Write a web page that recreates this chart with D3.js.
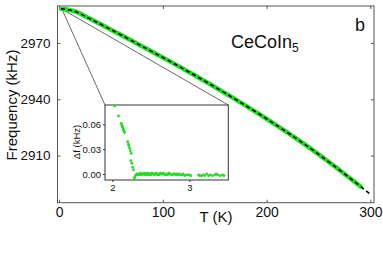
<!DOCTYPE html>
<html><head><meta charset="utf-8">
<script src="https://cdn.jsdelivr.net/npm/d3@7"></script>
<style>body{margin:0;background:#fff}svg{display:block}text{font-family:Arial,"Liberation Sans",sans-serif;fill:#111}</style>
</head><body><svg id="c" width="383" height="254"></svg>
<script>
// main measured data (T in K, frequency in kHz)
const dataT = [1.9, 15.5, 28.4, 44.5, 60.7, 92.9, 125.2, 167.2, 200, 233.3, 262, 290.4];
const dataF = [2988.2, 2986.8, 2983.3, 2978.7, 2974.0, 2964.4, 2954.55, 2940.9, 2929.6, 2917.3, 2905.8, 2893.6];
// fit (dashed)
const fitT = [1.9, 15.5, 28.4, 44.5, 60.7, 92.9, 125.2, 167.2, 200, 233.3, 262, 290.4, 301];
const fitF = [2988.2, 2986.8, 2983.3, 2978.7, 2974.0, 2964.4, 2954.55, 2940.9, 2929.6, 2917.3, 2905.8, 2893.6, 2888.9];
const xTicks = [0, 100, 200, 300];
const yTicks = [2910, 2940, 2970];
// inset: frequency shift near Tc
const insetT = [2.03,2.08,2.115,2.125,2.13,2.135,2.14,2.15,2.16,2.20,2.21,2.215,2.225,2.235,2.245,2.24,2.255,2.265,2.275,2.285,2.29,2.30,2.31,2.32,
 2.33,2.345,2.355,2.365,2.375,2.385,2.395,2.405,2.415,2.425,2.435,2.445,2.455,2.465,2.475,2.485,2.50,2.51,2.52,2.535,2.545,2.56,2.57,2.585,2.60,2.61,2.625,2.64,2.65,2.665,2.68,2.69,2.705,2.72,2.735,2.75,2.765,2.78,2.795,2.81,2.825,2.84,2.855,2.87,2.89,2.905,2.92,2.94,2.96,2.98,3.00,3.02,
 3.12,3.135,3.16,3.18,3.20,3.225,3.25,3.27,3.30,3.33,3.35,3.37,3.40,3.43,3.45];
const insetDf = [0.082,0.070,0.061,0.059,0.057,0.056,0.054,0.052,0.050,0.039,0.036,0.034,0.031,0.028,0.025,0.016,0.013,0.008,0.005,-0.006,-0.004,-0.002,-0.001,0.000,
 -0.001,0.000,-0.001,0.001,0.000,-0.001,0.000,0.000,0.001,-0.001,0.000,-0.001,0.001,0.000,-0.001,0.000,-0.001,0.001,0.000,0.000,-0.001,0.000,0.001,-0.001,0.000,-0.001,0.001,0.000,0.000,0.001,-0.001,-0.001,0.000,-0.001,0.001,0.000,-0.001,-0.001,0.000,0.000,-0.001,0.000,-0.001,0.000,-0.001,-0.001,0.000,-0.002,-0.001,-0.001,-0.001,-0.002,
 -0.001,-0.002,-0.002,-0.001,-0.002,0.000,-0.002,-0.001,-0.002,-0.001,0.000,-0.001,-0.002,-0.001,-0.002];
const insetXTicks = [2, 3];
const insetYTicks = [0.00, 0.03, 0.06];
const zoomPoint = [2.7, 2988.1];

const svg = d3.select('#c');
const green = '#1ee01e';
const frame = '#555';

const x = d3.scaleLinear().domain([-1.5, 303.5]).range([57.5, 374]);
const y = d3.scaleLinear().domain([2884.9, 2989.7]).range([202.7, 6]);

const gAxes = svg.append('g');
gAxes.append('g').attr('transform', `translate(0,${y.range()[0]})`)
  .call(d3.axisBottom(x).tickValues(xTicks).tickFormat(d3.format('d')).tickSizeInner(-3).tickSizeOuter(0).tickPadding(4.3));
const lx = gAxes.append('g').attr('transform', `translate(${x.range()[0]},0)`)
  .call(d3.axisLeft(y).tickValues(yTicks).tickFormat(d3.format('d')).tickSizeInner(-3).tickSizeOuter(0).tickPadding(7));
gAxes.append('g').attr('transform', `translate(0,${y.range()[1]})`)
  .call(d3.axisTop(x).tickValues(xTicks).tickSizeInner(-3).tickSizeOuter(0).tickFormat(''));
gAxes.append('g').attr('transform', `translate(${x.range()[1]},0)`)
  .call(d3.axisRight(y).tickValues(yTicks).tickSizeInner(-3).tickSizeOuter(0).tickFormat(''));
gAxes.selectAll('.domain').remove();
gAxes.selectAll('.tick line').attr('stroke', frame);
gAxes.selectAll('text').style('font-size', '14px').attr('fill', '#111');
lx.selectAll('text').style('font-size', '13.5px');

svg.append('rect').attr('x', x.range()[0]).attr('y', y.range()[1])
  .attr('width', x.range()[1] - x.range()[0]).attr('height', y.range()[0] - y.range()[1])
  .attr('fill', 'none').attr('stroke', frame).attr('stroke-width', 1);

// connector lines to inset
const inset = {x0: 105, y0: 105, x1: 228.3, y1: 180};
const zp = [x(zoomPoint[0]), y(zoomPoint[1])];
svg.append('line').attr('x1', zp[0]).attr('y1', zp[1]).attr('x2', inset.x0).attr('y2', inset.y0)
  .attr('stroke', '#444').attr('stroke-width', 0.8);
svg.append('line').attr('x1', zp[0]).attr('y1', zp[1]).attr('x2', inset.x1).attr('y2', inset.y0)
  .attr('stroke', '#444').attr('stroke-width', 0.8);

// main curves
const line = d3.line().x(d => x(d[0])).y(d => y(d[1])).curve(d3.curveMonotoneX);
svg.append('path').datum(dataT.map((t, i) => [t, dataF[i]])).attr('d', line)
  .attr('fill', 'none').attr('stroke', green).attr('stroke-width', 4.5).attr('stroke-linecap', 'round');
svg.append('path').datum(fitT.map((t, i) => [t, fitF[i]])).attr('d', line)
  .attr('fill', 'none').attr('stroke', '#000').attr('stroke-width', 1.6).attr('stroke-dasharray', '4,3');

// labels
svg.append('text').attr('x', 216).attr('y', 222).attr('text-anchor', 'middle').style('font-size', '15px').text('T (K)');
svg.append('text').attr('transform', 'translate(17,105) rotate(-90)').attr('text-anchor', 'middle')
  .style('font-size', '15px').text('Frequency (kHz)');
const ce = svg.append('text').attr('x', 231).attr('y', 48).style('font-size', '18px');
ce.append('tspan').text('CeCoIn');
ce.append('tspan').attr('dy', 4).style('font-size', '12px').text('5');
svg.append('text').attr('x', 355).attr('y', 31).style('font-size', '18px').text('b');

// inset
const xi = d3.scaleLinear().domain([1.905, 3.506]).range([inset.x0, inset.x1]);
const yi = d3.scaleLinear().domain([-0.00724, 0.0833]).range([inset.y1, inset.y0]);
const gi = svg.append('g');
gi.append('rect').attr('x', inset.x0).attr('y', inset.y0).attr('width', inset.x1 - inset.x0)
  .attr('height', inset.y1 - inset.y0).attr('fill', '#fff').attr('stroke', '#333').attr('stroke-width', 1);
gi.append('g').attr('transform', `translate(0,${inset.y1})`)
  .call(d3.axisBottom(xi).tickValues(insetXTicks).tickFormat(d3.format('d')).tickSizeInner(2).tickSizeOuter(0).tickPadding(2));
gi.append('g').attr('transform', `translate(${inset.x0},0)`)
  .call(d3.axisLeft(yi).tickValues(insetYTicks).tickSizeInner(2).tickSizeOuter(0).tickPadding(2).tickFormat(d3.format('.2f')));
gi.selectAll('.domain').remove();
gi.selectAll('.tick line').attr('stroke', '#333');
gi.selectAll('text').style('font-size', '9.5px').attr('fill', '#111');
gi.selectAll('circle').data(insetT.map((t, i) => [t, insetDf[i]])).join('circle')
  .attr('cx', d => xi(d[0])).attr('cy', d => yi(d[1])).attr('r', 1.4).attr('fill', green);
svg.append('text').attr('transform', 'translate(80,142) rotate(-90)').attr('text-anchor', 'middle')
  .style('font-size', '9.5px').text('Δf (kHz)');
</script></body></html>
